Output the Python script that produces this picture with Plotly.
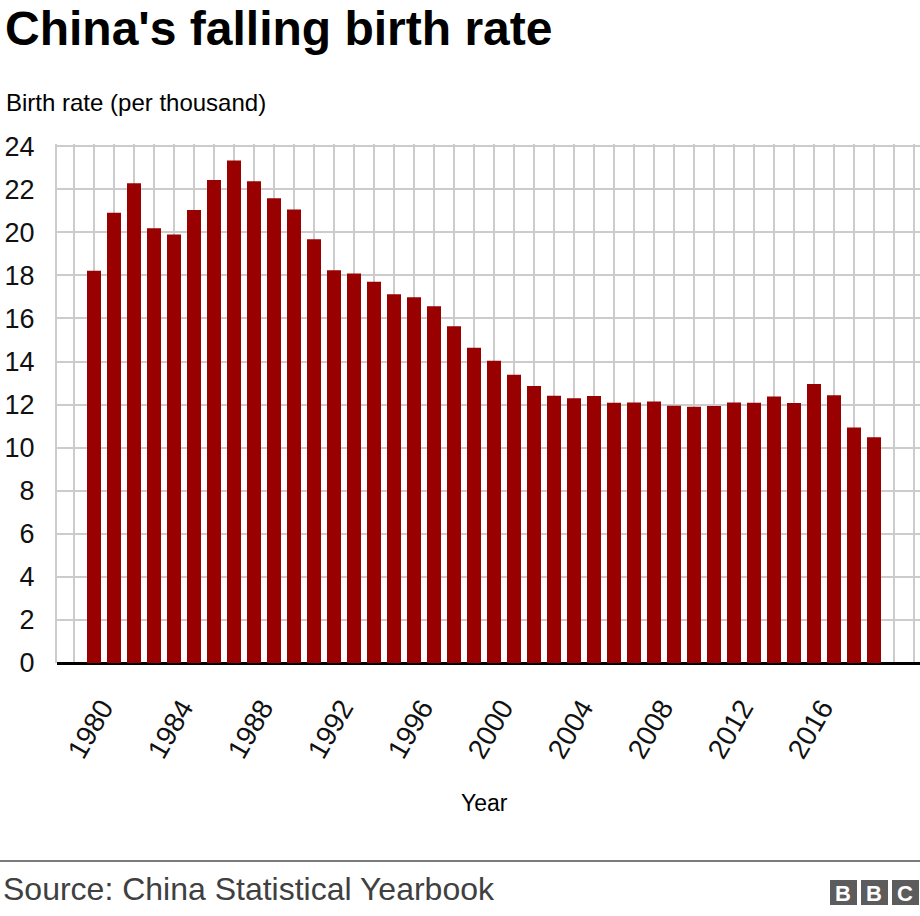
import plotly.graph_objects as go

years = list(range(1980, 2020))
birth_rate = [
    18.21, 20.91, 22.28, 20.19, 19.90, 21.04, 22.43, 23.33, 22.37, 21.58,
    21.06, 19.68, 18.24, 18.09, 17.70, 17.12, 16.98, 16.57, 15.64, 14.64,
    14.03, 13.38, 12.86, 12.41, 12.29, 12.40, 12.09, 12.10, 12.14, 11.95,
    11.90, 11.93, 12.10, 12.08, 12.37, 12.07, 12.95, 12.43, 10.94, 10.48,
]
year_ticks = list(range(1980, 2020, 4))
y_ticks = list(range(0, 26, 2))

W, H = 920, 916
L, R, T, B = 57, 0, 144, 253
PW, PH = W - L - R, H - T - B
FONT = "Liberation Sans, Arial, sans-serif"


def px(x):
    return (x - L) / PW


def py(y):
    return (H - B - y) / PH


fig = go.Figure()
fig.add_trace(go.Bar(
    x=years, y=birth_rate, width=0.7,
    marker=dict(color="#990000", line=dict(width=0)),
    hoverinfo="x+y",
))

fig.update_layout(
    width=W, height=H,
    margin=dict(l=L, r=R, t=T, b=B),
    plot_bgcolor="white", paper_bgcolor="white",
    showlegend=False,
    font=dict(family=FONT, color="#222222"),
    xaxis=dict(
        type="linear", range=[1978.15, 2021.3],
        tickvals=year_ticks, showticklabels=False,
        showgrid=True, gridcolor="#cccccc", gridwidth=2,
        minor=dict(dtick=1, tick0=1980, showgrid=True, gridcolor="#cccccc", gridwidth=2),
        zeroline=False, showline=False, ticks="",
    ),
    yaxis=dict(
        range=[0, 24.1], tickvals=y_ticks[:13],
        tickfont=dict(size=27, color="#111111"),
        showgrid=True, gridcolor="#cccccc", gridwidth=2,
        zeroline=True, zerolinecolor="#000000", zerolinewidth=3,
        showline=True, linecolor="#cccccc", linewidth=2,
        ticks="", ticklabelstandoff=15,
    ),
)

annotations = [
    dict(text="<b>China's falling birth rate</b>", x=px(3), y=py(29), xanchor="left", yanchor="middle",
         font=dict(size=48, color="#000000")),
    dict(text="Birth rate (per thousand)", x=px(4), y=py(103), xanchor="left", yanchor="middle",
         font=dict(size=24, color="#000000")),
    dict(text="Year", x=px(484), y=py(803), xanchor="center", yanchor="middle",
         font=dict(size=23, color="#000000")),
    dict(text="Source: China Statistical Yearbook", x=px(1), y=py(889), xanchor="left", yanchor="middle",
         font=dict(size=32, color="#404040")),
]
for yr in year_ticks:
    annotations.append(dict(text=str(yr), x=yr, xref="x", y=py(729), xshift=-4, textangle=-60,
                            xanchor="center", yanchor="middle", font=dict(size=28, color="#111111")))
for i, letter in enumerate("BBC"):
    x0 = 830 + i * 31
    annotations.append(dict(text=f"<b>{letter}</b>", x=px(x0 + 13), y=py(893), xanchor="center",
                            yanchor="middle", font=dict(size=22, color="white")))
for a in annotations:
    a.setdefault("xref", "paper")
    a.update(yref="paper", showarrow=False)
fig.update_layout(annotations=annotations)

shapes = [dict(type="line", xref="paper", yref="paper", x0=px(0), x1=px(W), y0=py(861), y1=py(861),
               line=dict(color="#7a7a7a", width=2))]
for i in range(3):
    x0 = 830 + i * 31
    shapes.append(dict(type="rect", xref="paper", yref="paper", x0=px(x0), x1=px(x0 + 27),
                       y0=py(905), y1=py(880), fillcolor="#5c5c5c", line=dict(width=0)))
fig.update_layout(shapes=shapes)

fig.write_html("out.html", config={"displayModeBar": False},
               post_script="document.body.style.margin='0';")
